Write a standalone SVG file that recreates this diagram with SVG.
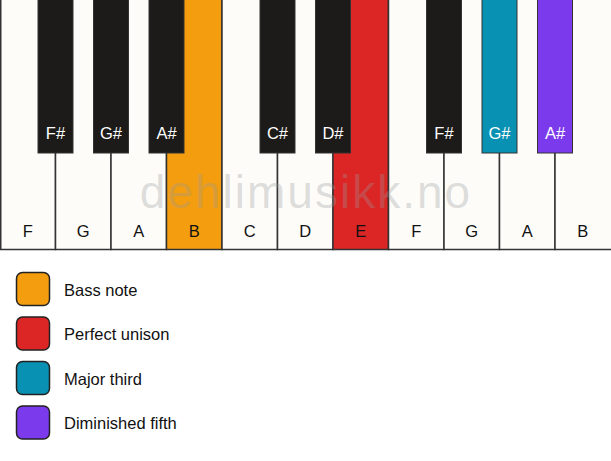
<svg xmlns="http://www.w3.org/2000/svg" width="611" height="461" viewBox="0 0 611 461">
<style>
.w{fill:#fdfcf9;stroke:#333;stroke-width:1.5}
.b{fill:#1c1b19;stroke:#333;stroke-width:1}
.wl{font-family:"Liberation Sans",Arial,sans-serif;font-size:16.5px;fill:#111;text-anchor:middle}
.bl{font-family:"Liberation Sans",Arial,sans-serif;font-size:16.5px;fill:#fff;text-anchor:middle}
.lg{stroke:#222;stroke-width:1.5}
.lt{font-family:"Liberation Sans",Arial,sans-serif;font-size:16.5px;fill:#111}
</style>
<rect width="611" height="461" fill="#fff"/>
<g id="white-keys">
<g id="key-F1"><rect class="w" x="0.75" y="-1" width="54.75" height="250.5"/><text class="wl" x="27.75" y="236.5">F</text></g>
<g id="key-G1"><rect class="w" x="55.5" y="-1" width="55.5" height="250.5"/><text class="wl" x="83.25" y="236.5">G</text></g>
<g id="key-A1"><rect class="w" x="111" y="-1" width="55.5" height="250.5"/><text class="wl" x="138.75" y="236.5">A</text></g>
<g id="key-B1"><rect class="w" x="166.5" y="-1" width="55.5" height="250.5" style="fill:#f49e0f"/><text class="wl" x="194.25" y="236.5">B</text></g>
<g id="key-C"><rect class="w" x="222" y="-1" width="55.5" height="250.5"/><text class="wl" x="249.75" y="236.5">C</text></g>
<g id="key-D"><rect class="w" x="277.5" y="-1" width="55.5" height="250.5"/><text class="wl" x="305.25" y="236.5">D</text></g>
<g id="key-E"><rect class="w" x="333" y="-1" width="55.5" height="250.5" style="fill:#dc2626"/><text class="wl" x="360.75" y="236.5">E</text></g>
<g id="key-F2"><rect class="w" x="388.5" y="-1" width="55.5" height="250.5"/><text class="wl" x="416.25" y="236.5">F</text></g>
<g id="key-G2"><rect class="w" x="444" y="-1" width="55.5" height="250.5"/><text class="wl" x="471.75" y="236.5">G</text></g>
<g id="key-A2"><rect class="w" x="499.5" y="-1" width="55.5" height="250.5"/><text class="wl" x="527.25" y="236.5">A</text></g>
<g id="key-B2"><rect class="w" x="555" y="-1" width="58" height="250.5"/><text class="wl" x="582.75" y="236.5">B</text></g>
</g>
<text x="306" y="208" font-family="Liberation Sans,Arial,sans-serif" font-size="46" letter-spacing="2" fill="#999" fill-opacity="0.32" text-anchor="middle">dehlimusikk.no</text>
<g id="black-keys">
<g id="key-Fs1"><rect class="b" x="38" y="-1" width="35" height="154"/><text class="bl" x="55.5" y="139">F#</text></g>
<g id="key-Gs1"><rect class="b" x="93.5" y="-1" width="35" height="154"/><text class="bl" x="111" y="139">G#</text></g>
<g id="key-As1"><rect class="b" x="149" y="-1" width="35" height="154"/><text class="bl" x="166.5" y="139">A#</text></g>
<g id="key-Cs"><rect class="b" x="260" y="-1" width="35" height="154"/><text class="bl" x="277.5" y="139">C#</text></g>
<g id="key-Ds"><rect class="b" x="315.5" y="-1" width="35" height="154"/><text class="bl" x="333" y="139">D#</text></g>
<g id="key-Fs2"><rect class="b" x="426.5" y="-1" width="35" height="154"/><text class="bl" x="444" y="139">F#</text></g>
<g id="key-Gs2"><rect class="b" x="482" y="-1" width="35" height="154" style="fill:#0891b2"/><text class="bl" x="499.5" y="139">G#</text></g>
<g id="key-As2"><rect class="b" x="537.5" y="-1" width="35" height="154" style="fill:#7c3aed"/><text class="bl" x="555" y="139">A#</text></g>
</g>
<g id="legend">
<g id="legend-bass"><rect class="lg" x="16.5" y="272.5" width="33" height="33" rx="6" fill="#f49e0f"/><text class="lt" x="64" y="295.5">Bass note</text></g>
<g id="legend-unison"><rect class="lg" x="16.5" y="317" width="33" height="33" rx="6" fill="#dc2626"/><text class="lt" x="64" y="340">Perfect unison</text></g>
<g id="legend-third"><rect class="lg" x="16.5" y="361.5" width="33" height="33" rx="6" fill="#0891b2"/><text class="lt" x="64" y="384.5">Major third</text></g>
<g id="legend-fifth"><rect class="lg" x="16.5" y="406" width="33" height="33" rx="6" fill="#7c3aed"/><text class="lt" x="64" y="429">Diminished fifth</text></g>
</g>
</svg>
